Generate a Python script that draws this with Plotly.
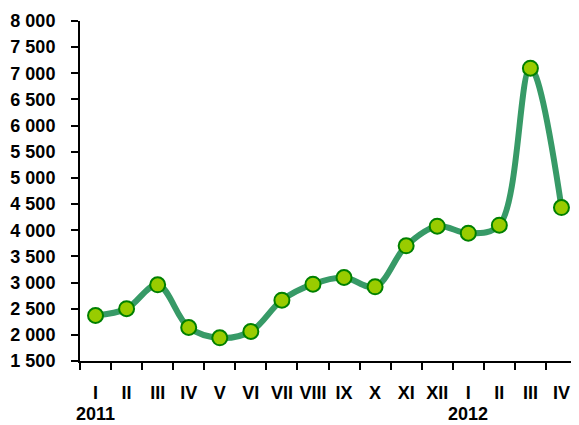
import plotly.graph_objects as go

months = ["I", "II", "III", "IV", "V", "VI", "VII", "VIII", "IX", "X", "XI", "XII",
          "I", "II", "III", "IV"]
values = [2370, 2500, 2957, 2140, 1943, 2064, 2663, 2969, 3096, 2918, 3702, 4077,
          3943, 4096, 7098, 4434]
years = ["2011", "2012"]
year_start = [0, 12]

idx = list(range(len(months)))
font = dict(family="Liberation Sans, Arial", size=18, color="black")

fig = go.Figure()
fig.add_trace(go.Scatter(
    x=idx, y=values, mode="lines+markers",
    line=dict(color="#379A67", width=6, shape="spline", smoothing=1.0),
    marker=dict(size=15, color="#99CC00", line=dict(color="#008000", width=2)),
    showlegend=False, cliponaxis=False,
))

for yr, pos in zip(years, year_start):
    fig.add_annotation(x=pos, y=-0.157, xref="x", yref="paper", text="<b>%s</b>" % yr,
                       showarrow=False, font=font, xanchor="center", yanchor="middle")

fig.update_xaxes(
    range=[-0.5, len(months) - 0.5], automargin=False,
    tickvals=idx, ticktext=["<b>%s</b>" % m for m in months],
    ticks="", ticklabelstandoff=14,
    minor=dict(tickmode="linear", tick0=-0.5, dtick=1, ticks="outside",
               ticklen=7, tickwidth=2, tickcolor="black"),
    showline=True, linecolor="black", linewidth=2,
    showgrid=False, zeroline=False, tickfont=font,
)
fig.update_yaxes(
    range=[1500, 8000], dtick=500, tick0=1500, tickformat=",d", automargin=False,
    ticks="outside", ticklen=7, tickwidth=2, tickcolor="black",
    ticklabelstandoff=12,
    showline=True, linecolor="black", linewidth=2,
    showgrid=False, zeroline=False,
    tickfont=dict(family="Liberation Sans, Arial", size=18, color="black", weight="bold"),
)
# the page body has an 8px margin, so the figure is sized to the visible area
fig.update_layout(
    width=571, height=417,
    margin=dict(l=72, r=2, t=13, b=64),
    plot_bgcolor="white", paper_bgcolor="white",
    separators=", ",
)
fig.write_html("out.html")
